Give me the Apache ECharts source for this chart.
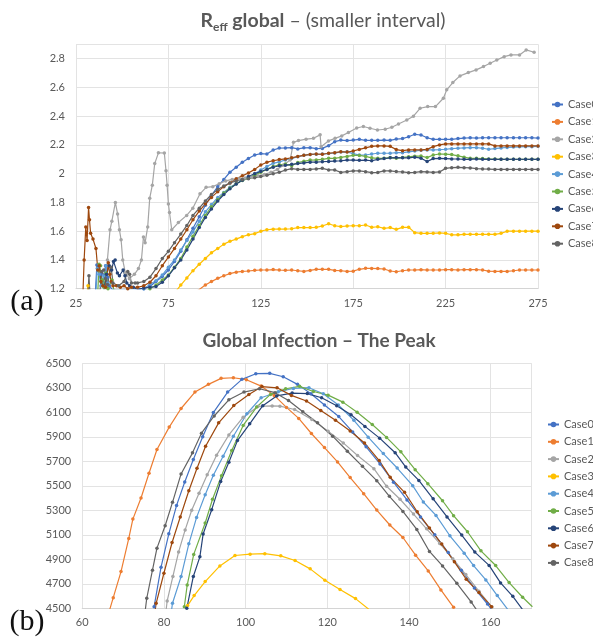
<!DOCTYPE html>
<html><head><meta charset="utf-8">
<script src="https://cdn.jsdelivr.net/npm/echarts@6/dist/echarts.min.js"></script>
<style>html,body{margin:0;padding:0;background:#fff}#c{width:593px;height:639px}</style>
</head><body><div id="c"></div>
<script>
const caseNames = ['Case0','Case1','Case2','Case3','Case4','Case5','Case6','Case7','Case8'];
const caseColors = ['#4472C4','#ED7D31','#A5A5A5','#FFC000','#5B9BD5','#70AD47','#264478','#9E480E','#636363'];

// ---- Panel (a): R_eff global ----
const reffXRange = [25, 275, 50];
const reffYRange = [1.2, 2.9, 0.2];
const reffDays = [58.3,61.7,65,68.3,71.7,75,78.3,81.7,85,88.3,91.7,
  95,98.3,101.7,105,108.3,111.7,115,118.3,121.7,125,128.3,
  131.7,135,138.3,141.7,145,148.3,151.7,155,158.3,161.7,165,
  168.3,171.7,175,178.3,181.7,185,188.3,191.7,195,198.3,201.7,
  205,208.3,211.7,215,218.3,221.7,225,228.3,231.7,235,238.3,
  241.7,245,248.3,251.7,255,258.3,261.7,265,268.3,271.7,275];
const reffCase0 = [null,1.20,1.215,1.25,1.285,1.33,1.39,1.46,1.54,1.62,1.70,
  1.78,1.85,1.91,1.96,2.01,2.045,2.08,2.105,2.13,2.14,2.137,
  2.165,2.178,2.179,2.181,2.172,2.18,2.181,2.174,2.176,2.195,2.223,
  2.234,2.23,2.234,2.239,2.232,2.232,2.232,2.234,2.232,2.241,2.244,
  2.257,2.274,2.269,2.25,2.239,2.239,2.239,2.239,2.244,2.248,2.25,
  2.248,2.25,2.25,2.25,2.25,2.25,2.25,2.25,2.25,2.25,2.248];
const reffCase1 = [null,null,null,null,null,null,null,null,null,1.165,1.195,
  1.225,1.25,1.272,1.29,1.305,1.315,1.32,1.323,1.328,1.33,1.33,
  1.333,1.33,1.328,1.33,1.325,1.32,1.327,1.335,1.335,1.335,1.327,
  1.325,1.32,1.322,1.335,1.342,1.341,1.34,1.337,1.323,1.318,1.325,
  1.33,1.33,1.332,1.33,1.33,1.33,1.332,1.332,1.33,1.332,1.332,
  1.332,1.33,1.322,1.32,1.32,1.32,1.325,1.33,1.33,1.33,1.33];
const reffCase2 = [[41.0,1.18],[42.0,1.40],[43.4,1.61],[44.4,1.67],[46.3,1.80],[47.5,1.72],[48.5,1.61],[49.4,1.54],
  [50.3,1.40],[51.7,1.31],[53.9,1.27],[56.6,1.30],[58.8,1.34],[60.4,1.40],[61.5,1.56],[62.4,1.52],[63.8,1.63],
  [64.9,1.83],[66.3,1.92],[67.6,2.07],[69.6,2.145],[72.8,2.144],[73.7,2.02],[74.3,1.92],[75.0,1.79],[75.6,1.73],
  [76.8,1.61],[80.4,1.66],[84.9,1.71],[88.2,1.76],[92.1,1.86],[95.4,1.905],[99.0,1.91],[102.5,1.93],[106,1.95],
  [109.5,1.96],[113,1.965],[116.5,1.97],[120,1.975],[123.5,1.985],[127,1.995],[130.5,2.01],[134,2.03],[137.5,2.06],
  [140.9,2.096],[142.7,2.219],[145.4,2.23],[149.5,2.24],[153.5,2.246],[157.1,2.27],[157.6,2.188],[161.6,2.228],
  [165.2,2.246],[168.8,2.263],[172.4,2.286],[176.9,2.318],[180.5,2.328],[184.1,2.316],[188.1,2.304],[192.3,2.309],
  [195.9,2.323],[199.5,2.346],[204,2.374],[207.6,2.4],[211.2,2.455],[215.3,2.467],[219.5,2.467],[223.8,2.525],
  [225.6,2.583],[228.9,2.634],[232.8,2.68],[237.3,2.703],[241.5,2.722],[245.5,2.745],[249.1,2.768],[252.7,2.791],
  [256.7,2.814],[260.4,2.826],[265,2.826],[268.6,2.861],[272.9,2.845]];
const reffCase3 = [null,null,null,null,null,null,1.17,1.225,1.275,1.325,1.37,
  1.41,1.45,1.48,1.51,1.53,1.545,1.562,1.575,1.583,1.6,1.61,
  1.614,1.615,1.615,1.617,1.625,1.625,1.625,1.627,1.636,1.652,1.638,
  1.632,1.636,1.638,1.638,1.643,1.627,1.631,1.62,1.625,1.613,1.627,
  1.627,1.59,1.585,1.585,1.585,1.588,1.585,1.575,1.575,1.578,1.578,
  1.578,1.578,1.578,1.578,1.585,1.6,1.6,1.6,1.6,1.6,1.6];
const reffCase4 = [null,1.20,1.23,1.255,1.295,1.35,1.40,1.47,1.535,1.595,1.67,
  1.735,1.785,1.835,1.87,1.905,1.93,1.955,1.975,2.0,2.025,2.05,
  2.072,2.082,2.095,2.107,2.117,2.128,2.134,2.135,2.137,2.14,2.144,
  2.15,2.152,2.14,2.13,2.13,2.137,2.142,2.142,2.142,2.146,2.146,
  2.152,2.157,2.163,2.165,2.165,2.167,2.17,2.174,2.177,2.179,2.181,
  2.181,2.177,2.17,2.175,2.179,2.182,2.185,2.187,2.188,2.188,2.19];
const reffCase5 = [null,null,1.2,1.225,1.26,1.295,1.35,1.41,1.49,1.565,1.64,
  1.71,1.77,1.82,1.865,1.9,1.93,1.952,1.968,1.99,2.01,2.03,
  2.05,2.062,2.067,2.055,2.078,2.086,2.095,2.096,2.1,2.107,2.107,
  2.113,2.12,2.128,2.127,2.12,2.11,2.107,2.107,2.112,2.107,2.113,
  2.118,2.122,2.123,2.112,2.13,2.137,2.136,2.133,2.124,2.115,2.107,
  2.107,2.105,2.103,2.102,2.1,2.1,2.1,2.1,2.1,2.1,2.1];
const reffCase6 = [null,1.205,1.21,1.215,1.245,1.29,1.345,1.40,1.47,1.545,1.625,
  1.695,1.755,1.81,1.855,1.895,1.928,1.955,1.98,2.0,2.015,2.03,
  2.045,2.055,2.058,2.065,2.07,2.075,2.08,2.08,2.083,2.085,2.088,
  2.09,2.095,2.095,2.093,2.095,2.09,2.1,2.105,2.11,2.112,2.11,
  2.11,2.115,2.108,2.085,2.105,2.107,2.105,2.103,2.102,2.1,2.1,
  2.103,2.1,2.1,2.1,2.1,2.1,2.1,2.1,2.1,2.1,2.1];
const reffCase7 = [1.21,1.22,1.245,1.29,1.36,1.42,1.48,1.545,1.61,1.68,1.74,
  1.79,1.835,1.875,1.91,1.935,1.965,1.985,2.005,2.03,2.06,2.08,
  2.09,2.098,2.103,2.11,2.12,2.128,2.134,2.137,2.135,2.142,2.146,
  2.153,2.15,2.158,2.169,2.18,2.19,2.193,2.193,2.19,2.168,2.16,
  2.165,2.165,2.165,2.169,2.188,2.2,2.207,2.207,2.207,2.207,2.207,
  2.207,2.207,2.207,2.193,2.193,2.193,2.193,2.193,2.193,2.193,2.193];
const reffCase8 = [1.24,1.25,1.28,1.34,1.41,1.46,1.52,1.58,1.64,1.71,1.76,
  1.81,1.855,1.89,1.915,1.935,1.95,1.96,1.965,1.972,1.98,1.99,
  2.0,2.01,2.025,2.035,2.03,2.03,2.03,2.033,2.037,2.026,2.026,
  2.009,2.014,2.019,2.019,2.014,2.007,2.009,2.019,2.019,2.015,2.012,
  2.007,2.009,2.014,2.012,2.009,2.012,2.037,2.042,2.044,2.042,2.04,
  2.035,2.033,2.032,2.03,2.03,2.03,2.03,2.03,2.03,2.03,2.03];
// early noisy start (day, value)
const reffEarly0 = [[35.5,1.18],[36.3,1.365],[37.5,1.36],[38.5,1.3],[39.5,1.22],[41,1.36],[42,1.28],[43,1.22],[45,1.19],[52,1.18],[58,1.19]];
const reffEarly3 = [[31,1.18],[31.5,1.22],[32,1.18]];
const reffEarly4 = [[35.8,1.18],[36.5,1.34],[37.5,1.30],[38.5,1.22],[40,1.29],[41.2,1.36],[42.2,1.24],[43.5,1.19]];
const reffEarly5 = [[36.8,1.18],[37.5,1.37],[38.3,1.36],[39.2,1.26],[40.2,1.21],[41.2,1.31],[42.3,1.2],[44.5,1.26],[45.5,1.19],[60,1.18]];
const reffEarly6 = [[40,1.18],[41.5,1.3],[43,1.36],[44.3,1.33],[45.3,1.39],[46.2,1.40],[47.4,1.31],[48.5,1.29],[50.5,1.33],[51.5,1.29],[52.5,1.24],[54,1.22],[56,1.21],[58.3,1.195]];
const reffEarly7 = [[28.8,1.18],[29.4,1.40],[30.3,1.63],[31.0,1.535],[31.8,1.765],[32.3,1.68],[32.9,1.585],[34.2,1.545],[35.8,1.48],[36.8,1.33],[37.6,1.36],[38.5,1.25],[39.5,1.22],[41,1.21],[42.5,1.38],[43.3,1.30],[44,1.25],[45,1.22],[47,1.22],[49,1.21],[51,1.22],[53,1.2],[55,1.21]];
const reffEarly8 = [[31.5,1.18],[32.0,1.29],[32.5,1.18],[38,1.19],[39,1.32],[40,1.33],[41,1.27],[42,1.23],[44,1.35],[45,1.24],[48,1.22],[51,1.25],[53,1.32],[54,1.3],[55,1.24],[57,1.24]];

// ---- Panel (b): Global infection, the peak (day, infected) ----
const peakXRange = [60, 170, 20];
const peakYRange = [4500, 6500, 200];
const peakCase0 = [[77.6,4513],[79.3,4836],[81.2,5108],[83.1,5340],[85.1,5531],[87.2,5714],[89.5,5900],[92.1,6098],[95.6,6265],[99.1,6369],[102.5,6415],[105.9,6418],[109.2,6390],[112.7,6328],[116.0,6252],[119.3,6160],[122.8,6065],[126.2,5940],[129.5,5818],[132.9,5678],[136.2,5530],[139.5,5385],[142.8,5245],[146.3,5100],[149.6,4955],[152.8,4810],[156.0,4665],[159.2,4535],[161.5,4430]];
const peakCase1 = [[66.3,4440],[67.6,4587],[69.5,4800],[71.4,5070],[72.4,5228],[74.4,5400],[76.35,5602],[78.3,5796],[81.3,5979],[84.2,6131],[87.6,6265],[90.9,6328],[94.0,6377],[97.0,6382],[100.2,6366],[103.8,6314],[107.0,6238],[110.0,6140],[113.0,6050],[116.1,5927],[119.3,5812],[122.5,5695],[125.6,5567],[128.9,5436],[132.1,5302],[135.3,5180],[138.5,5078],[141.6,4934],[144.7,4805],[147.8,4650],[150.9,4508]];
const peakCase2 = [[80.3,4420],[80.8,4560],[82.2,4760],[83.6,4960],[85.2,5140],[86.8,5300],[88.6,5440],[90.6,5590],[92.9,5750],[95.9,5915],[99.4,6060],[103.0,6148],[106.5,6152],[108.4,6150],[112.0,6123],[116.2,6041],[120.2,5946],[123.9,5850],[127.4,5747],[131.4,5640],[134.5,5496],[137.8,5390],[141.1,5269],[144.3,5149],[147.5,5030],[150.7,4905],[153.9,4775],[157.1,4640],[160.3,4510]];
const peakCase3 = [[85.8,4522],[87.4,4604],[90.1,4718],[93.7,4846],[97.4,4931],[101.1,4942],[104.7,4946],[108.6,4928],[112.1,4890],[115.8,4822],[119.4,4729],[123.1,4653],[126.9,4579],[130.6,4480]];
const peakCase4 = [[81.6,4420],[82.1,4541],[84.2,4759],[86.1,5026],[88.0,5242],[90.1,5427],[92.1,5586],[94.5,5741],[97.0,5905],[100.3,6088],[103.8,6219],[108.0,6268],[111.7,6295],[115.5,6301],[119.0,6251],[122.7,6160],[126.5,6035],[130.0,5897],[133.7,5763],[137.1,5645],[140.9,5501],[143.5,5368],[146.6,5258],[150.0,5092],[153.5,4950],[155.8,4849],[158.8,4732],[161.6,4604],[164.4,4480]];
const peakCase5 = [[85.0,4513],[85.7,4690],[87.3,4940],[90.1,5196],[91.9,5390],[94.1,5583],[96.6,5788],[99.4,5993],[102.7,6143],[106.1,6246],[109.8,6292],[113.2,6312],[116.6,6270],[120.2,6240],[123.8,6183],[127.3,6101],[131.0,6000],[134.5,5895],[138.0,5777],[141.5,5632],[144.6,5517],[148.2,5378],[150.9,5256],[154.3,5125],[157.6,4969],[161.2,4849],[164.5,4710],[167.8,4590],[170.2,4513]];
const peakCase6 = [[85.6,4500],[87.2,4760],[88.8,4920],[89.6,5106],[91.7,5305],[93.9,5536],[95.9,5692],[98.0,5869],[101.0,6006],[104.2,6154],[107.6,6234],[111.4,6257],[115.1,6253],[118.6,6219],[122.3,6154],[125.8,6080],[129.2,5985],[132.8,5889],[136.6,5770],[139.2,5653],[142.4,5544],[145.9,5394],[149.3,5246],[152.9,5098],[156.1,4959],[159.6,4850],[162.4,4707],[165.4,4598],[168.0,4480]];
const peakCase7 = [[77.6,4420],[78.1,4541],[80.0,4786],[82.0,5037],[84.0,5245],[86.1,5460],[88.1,5643],[90.2,5823],[93.4,6014],[97.1,6155],[100.8,6245],[104.0,6310],[107.7,6300],[111.2,6238],[114.9,6192],[118.4,6114],[122.0,6035],[125.6,5948],[129.1,5850],[132.7,5706],[135.4,5569],[138.9,5447],[142.0,5288],[145.0,5155],[148.0,5024],[151.1,4879],[154.0,4737],[157.1,4628],[160.2,4513]];
const peakCase8 = [[75.2,4420],[75.8,4582],[77.2,4811],[78.3,4991],[80.3,5174],[82.1,5365],[84.2,5597],[87.0,5769],[89.2,5930],[92.3,6070],[95.9,6202],[99.6,6265],[103.4,6292],[107.2,6260],[110.5,6197],[114.0,6104],[117.6,6014],[121.3,5905],[124.9,5782],[128.6,5659],[132.1,5542],[135.2,5414],[138.5,5291],[141.9,5144],[145.0,4964],[148.2,4846],[151.7,4704],[155.2,4552],[157.5,4440]];

// ---- assemble ----
function gridSeries(early, values) {
  const pts = early.slice();
  values.forEach((v, i) => { if (v !== null) pts.push([reffDays[i], v]); });
  return pts;
}
const reffData = [
  gridSeries(reffEarly0, reffCase0),
  gridSeries([], reffCase1),
  reffCase2,
  gridSeries(reffEarly3, reffCase3),
  gridSeries(reffEarly4, reffCase4),
  gridSeries(reffEarly5, reffCase5),
  gridSeries(reffEarly6, reffCase6),
  gridSeries(reffEarly7, reffCase7),
  gridSeries(reffEarly8, reffCase8)
];
const peakData = [peakCase0, peakCase1, peakCase2, peakCase3, peakCase4, peakCase5, peakCase6, peakCase7, peakCase8];

const FONT = 'Lato, "Open Sans", sans-serif';
const gridCol = '#e3e3e3';
const labelCol = '#595959';
const clear = 'rgba(0,0,0,0)';

const series = [];
caseNames.forEach((n, i) => {
  series.push({
    type: 'line', name: n, xAxisIndex: 0, yAxisIndex: 0, data: reffData[i],
    symbol: 'circle', symbolSize: 3.5, color: caseColors[i],
    lineStyle: { width: 1.2, color: caseColors[i] }, itemStyle: { color: caseColors[i] },
    clip: true, animation: false
  });
});
caseNames.forEach((n, i) => {
  series.push({
    type: 'line', name: n, xAxisIndex: 1, yAxisIndex: 1, data: peakData[i],
    symbol: 'circle', symbolSize: 3.5, color: caseColors[i],
    lineStyle: { width: 1.2, color: caseColors[i] }, itemStyle: { color: caseColors[i] },
    clip: true, animation: false
  });
});

// split-line colours per tick; the extra tick at a non-multiple max is left invisible
function splitColors(r) {
  const n = Math.round((r[1] - r[0]) / r[2]);
  const fits = Math.abs(r[0] + n * r[2] - r[1]) < 1e-9;
  const cols = [];
  for (let k = 0; k <= n; k++) cols.push(gridCol);
  if (!fits) cols.push(clear);
  return cols;
}
function xAxisCfg(idx, r) {
  return {
    type: 'value', gridIndex: idx, min: r[0], max: r[1], interval: r[2],
    axisLine: { show: true, lineStyle: { color: '#d4d4d4', width: 1 } },
    axisTick: { show: false },
    splitLine: { show: true, lineStyle: { color: splitColors(r), width: 1 } },
    axisLabel: { color: labelCol, fontSize: 11, fontFamily: FONT, margin: 9, showMaxLabel: idx === 0,
      formatter: v => String(v) }
  };
}
function yAxisCfg(idx, r) {
  return {
    type: 'value', gridIndex: idx, min: r[0], max: r[1], interval: r[2],
    axisLine: { show: false }, axisTick: { show: false },
    splitLine: { show: true, lineStyle: { color: splitColors(r), width: 1 } },
    axisLabel: { color: labelCol, fontSize: 11, fontFamily: FONT, margin: 11, showMaxLabel: idx === 1,
      formatter: v => String(Math.round(v * 1000) / 1000) }
  };
}
function legendCfg(left, top, gap) {
  return {
    orient: 'vertical', left: left, top: top, data: caseNames, padding: 0,
    itemWidth: 11, itemHeight: 7, itemGap: gap,
    textStyle: { color: labelCol, fontSize: 11, fontFamily: FONT, lineHeight: 14 },
    selectedMode: false
  };
}

const chart = echarts.init(document.getElementById('c'), null, { renderer: 'canvas' });
chart.setOption({
  animation: false,
  backgroundColor: '#ffffff',
  grid: [
    { left: 76, top: 44.3, width: 462, height: 244.4, containLabel: false },
    { left: 82.2, top: 363.3, width: 449.4, height: 245, containLabel: false }
  ],
  xAxis: [xAxisCfg(0, reffXRange), xAxisCfg(1, peakXRange)],
  yAxis: [yAxisCfg(0, reffYRange), yAxisCfg(1, peakYRange)],
  legend: [legendCfg(551, 97.5, 3.4), legendCfg(547, 417.5, 3.3)],
  series: series,
  graphic: [
    { type: 'text', x: 323, y: 21, style: {
        text: '{b|R}{s|eff}{b| global}{n| – (smaller interval)}',
        align: 'center', verticalAlign: 'middle', fill: labelCol,
        rich: {
          b: { fontSize: 19.5, fontWeight: 'bold', fontFamily: FONT, fill: labelCol, lineHeight: 24 },
          s: { fontSize: 12, fontWeight: 'bold', fontFamily: FONT, fill: labelCol, lineHeight: 15, verticalAlign: 'bottom' },
          n: { fontSize: 19.5, fontWeight: 'normal', fontFamily: FONT, fill: labelCol, lineHeight: 24 }
        } } },
    { type: 'text', x: 319, y: 341, style: {
        text: 'Global Infection – The Peak', align: 'center', verticalAlign: 'middle',
        fill: labelCol, font: 'bold 19px ' + FONT } },
    { type: 'text', x: 27, y: 302, style: {
        text: '(a)', align: 'center', verticalAlign: 'middle', fill: '#111',
        font: 'normal 30px "Liberation Serif", "DejaVu Serif", serif' } },
    { type: 'text', x: 27, y: 622, style: {
        text: '(b)', align: 'center', verticalAlign: 'middle', fill: '#111',
        font: 'normal 30px "Liberation Serif", "DejaVu Serif", serif' } }
  ]
});
</script>
</body></html>
